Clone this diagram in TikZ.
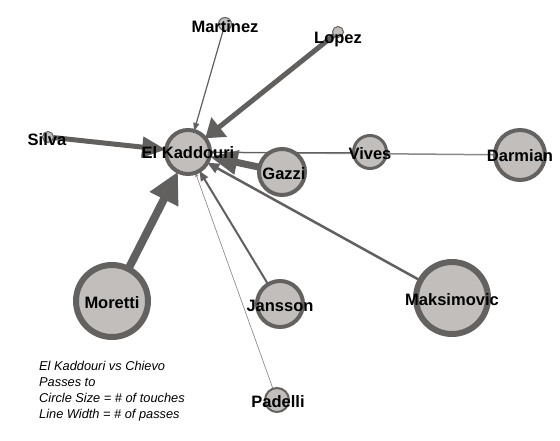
\documentclass[tikz,border=0pt]{standalone}
\usepackage{fontspec}
\setmainfont{Liberation Sans}
\usetikzlibrary{arrows.meta}
\definecolor{nodefill}{RGB}{193,190,188}
\definecolor{nodeline}{RGB}{100,98,97}
\definecolor{edgecol}{RGB}{98,96,95}
\definecolor{thinedge}{RGB}{140,138,137}
\pgfdeclarelayer{bg}
\pgfdeclarelayer{paper}
\pgfsetlayers{paper,bg,main}
\tikzset{
  player/.style={circle, draw=nodeline, fill=nodefill, inner sep=0pt, outer sep=0pt},
  pname/.style={anchor=base, inner sep=0pt, font=\fontsize{16.5}{19}\selectfont\bfseries, text=black},
  legend/.style={anchor=base west, inner sep=0pt, font=\fontsize{12.8}{16}\selectfont\itshape, text=black},
  pass/.style={draw=edgecol, fill=edgecol},
}
\begin{document}
\begin{tikzpicture}[x=1pt,y=-1pt]
\begin{pgfonlayer}{paper}
\fill[white] (0,0) rectangle (560,440);
\end{pgfonlayer}
\useasboundingbox (0,0) rectangle (560,440);
% circles: minimum size = 2r - line width
\node[player, line width=4pt, minimum size=44pt] (ek) at (188,152) {};
\node[player, line width=4pt, minimum size=46pt] (gazzi) at (282,172) {};
\node[player, line width=3pt, minimum size=33pt] (vives) at (370,152) {};
\node[player, line width=4pt, minimum size=50pt] (darmian) at (520,155) {};
\node[player, line width=6pt, minimum size=72pt] (moretti) at (112,301) {};
\node[player, line width=6pt, minimum size=72pt] (maksimovic) at (452,298) {};
\node[player, line width=4pt, minimum size=46pt] (jansson) at (280,304) {};
\node[player, line width=2pt, minimum size=24pt] (padelli) at (277,400) {};
\node[player, line width=1pt, minimum size=13pt] (martinez) at (225,24) {};
\node[player, line width=1pt, minimum size=11pt] (lopez) at (338,32) {};
\node[player, line width=1pt, minimum size=11pt] (silva) at (48,137) {};
% passes
\begin{pgfonlayer}{bg}
\draw[pass, line width=8pt, -{Triangle[length=31pt,width=30pt]}] (moretti) -- (ek);
\draw[pass, line width=7pt, -{Triangle[length=28pt,width=23pt]}] (gazzi) -- (ek);
\draw[pass, line width=5pt, -{Triangle[length=18pt,width=24pt]}] (lopez) -- (ek);
\draw[pass, line width=5pt, -{Triangle[length=24pt,width=20pt]}] (silva) -- (ek);
\draw[pass, line width=2.5pt, -{Triangle[length=12pt,width=10pt]}] (maksimovic) -- (ek);
\draw[pass, line width=2pt, -{Triangle[length=10pt,width=8pt]}] (jansson) -- (ek);
\draw[pass, line width=1.2pt, -{Triangle[length=8pt,width=6pt]}] (martinez) -- (ek);
\draw[pass, draw=thinedge, fill=thinedge, line width=1.5pt, -{Triangle[length=6pt,width=5pt]}] (darmian) -- (ek);
\draw[pass, line width=1pt, -{Triangle[length=5pt,width=4pt]}] (vives) -- (ek);
\draw[pass, draw=thinedge, fill=thinedge, line width=0.6pt, -{Triangle[length=4pt,width=3pt]}] (padelli) -- (ek);
\end{pgfonlayer}
% names
\node[pname] (lek) at (188,158) {El Kaddouri};
\node[pname] (lgazzi) at (284,179) {Gazzi};
\node[pname] (lvives) at (370,159) {Vives};
\node[pname] (ldarmian) at (520,161) {Darmian};
\node[pname] (lmoretti) at (112,308) {Moretti};
\node[pname] (lmaksimovic) at (452,305) {Maksimovic};
\node[pname] (ljansson) at (280,311) {Jansson};
\node[pname] (lpadelli) at (278,407) {Padelli};
\node[pname] (lmartinez) at (225,32) {Martinez};
\node[pname] (llopez) at (338,43) {Lopez};
\node[pname] (lsilva) at (47,145) {Silva};
% legend
\node[legend] (leg1) at (39,370) {El Kaddouri vs Chievo};
\node[legend] (leg2) at (39,386) {Passes to};
\node[legend] (leg3) at (39,402) {Circle Size = \# of touches};
\node[legend] (leg4) at (39,418) {Line Width = \# of passes};
\end{tikzpicture}
\end{document}
